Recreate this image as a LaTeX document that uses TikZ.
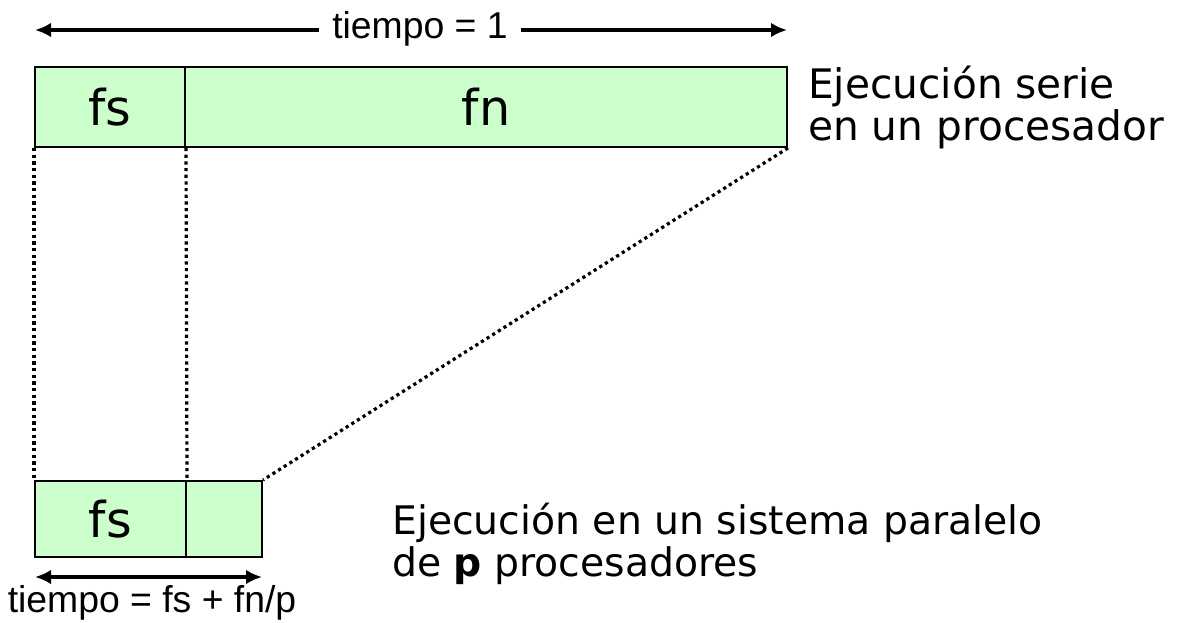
\documentclass[tikz,border=0pt]{standalone}
\usepackage{fontspec}
\setmainfont{DejaVu Sans}
\newfontfamily\arialf{Liberation Sans}
\usetikzlibrary{arrows.meta}
\begin{document}
\begin{tikzpicture}[x=0.75pt,y=-0.75pt,
  cell/.style={draw=black,line width=1.5pt,inner sep=0pt,minimum height=60pt,font=\fontsize{37}{40}\selectfont},
  dimarrow/.style={line width=3pt,{Latex[length=12pt,width=11pt]}-{Latex[length=12pt,width=11pt]}},
  dimlabel/.style={font=\arialf\fontsize{28}{30}\selectfont,inner sep=0pt},
  guide/.style={line width=2.4pt,dash pattern=on 2.4pt off 2.6pt},
  caption/.style={font=\fontsize{29.5}{31.5}\selectfont,align=left,anchor=west,inner sep=0pt}]
\useasboundingbox (0,0) rectangle (1202,622);
\definecolor{cellgreen}{HTML}{CCFFCC}
% top arrow
\coordinate (tl) at (35,30);
\coordinate (tr) at (787,30);
\draw[dimarrow] (tl) -- (tr);
\node[dimlabel,fill=white,inner xsep=10pt,inner ysep=4pt] (tlab) at (420,29) {tiempo = 1};
% top boxes
\node[cell,fill=cellgreen,minimum width=112.5pt] (fsT) at (110,107) {fs};
\node[cell,fill=cellgreen,minimum width=451.5pt] (fnT) at (486,107) {fn};
% bottom boxes
\node[cell,fill=cellgreen,minimum width=113.25pt,minimum height=57pt] (fsB) at (110.5,519) {fs};
\node[cell,fill=cellgreen,minimum width=57pt,minimum height=57pt] (pB) at (224,519) {};
% guides
\draw[guide] (fsT.south west) -- (fsB.north west);
\draw[guide] (fsT.south east) -- (fsB.north east);
\draw[guide] (fnT.south east) -- (pB.north east);
% bottom arrow
\coordinate (bl) at (35,577);
\coordinate (br) at (262,577);
\draw[dimarrow] (bl) -- (br);
\node[dimlabel] (blab) at (152,603) {tiempo = fs + fn/p};
% captions
\node[caption,font=\fontsize{30.5}{31.5}\selectfont] (cap1) at (808,107) {Ejecución serie\\en un procesador};
\node[caption] (cap2) at (392,544) {Ejecución en un sistema paralelo\\de \textbf{p} procesadores};
\end{tikzpicture}
\end{document}
